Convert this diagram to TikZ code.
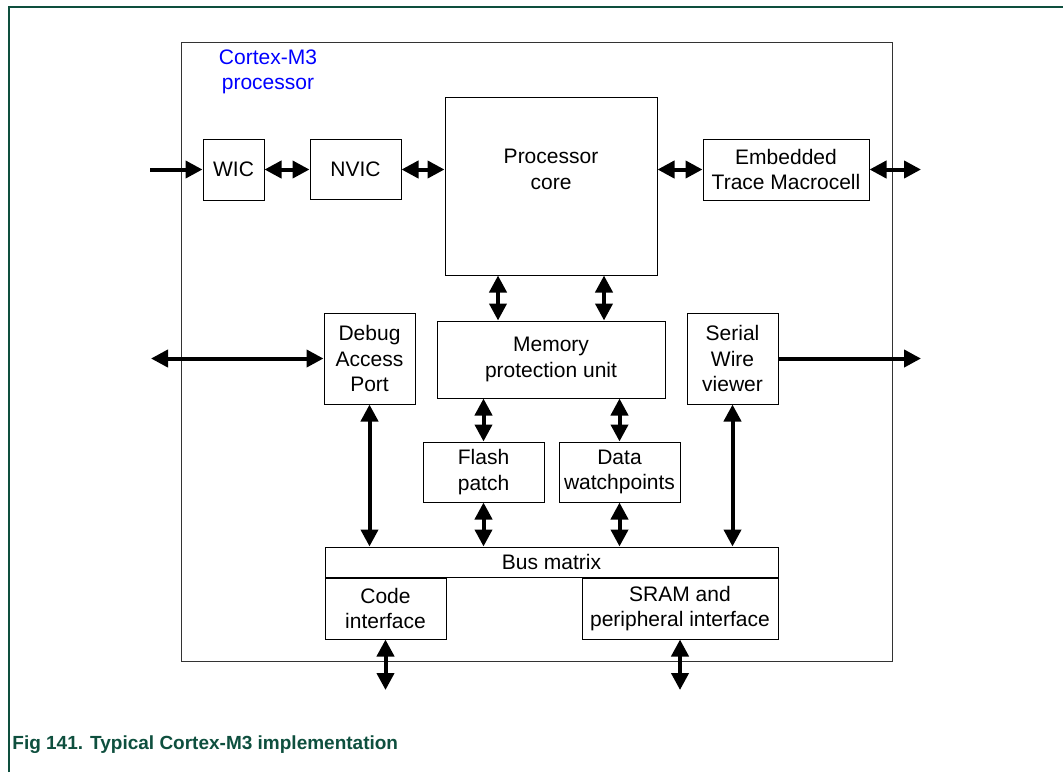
\documentclass[tikz,border=0pt]{standalone}
\usepackage{fontspec}
\setmainfont{Liberation Sans}
\usepackage{xcolor}
\usetikzlibrary{positioning, arrows.meta}

\definecolor{figgreen}{HTML}{0E4F3E}
\definecolor{cortexblue}{RGB}{0,0,255}

\begin{document}
\begin{tikzpicture}[
  x=0.5pt, y=-0.5pt,
  box/.style={draw, line width=0.5pt, inner sep=1pt, align=center,
              font=\fontsize{10.5}{12.6}\selectfont},
  link/.style={line width=2pt, {Triangle[length=8.5pt,width=8.5pt]}-{Triangle[length=8.5pt,width=8.5pt]}},
  feed/.style={line width=2pt, -{Triangle[length=8.5pt,width=8.5pt]}},
  node distance=22.5pt
]
  \useasboundingbox (0,0) rectangle (1063,772);

  % page frame and caption
  \draw[figgreen, line width=0.8pt] (9,772) -- (9,7) -- (1063,7);
  \node[anchor=base west, inner sep=0pt, text=figgreen,
        font=\fontsize{9.5}{11}\selectfont\bfseries] (caption) at (12,749)
        {Fig 141. Typical Cortex-M3 implementation};

  % processor outline
  \node[draw=black!80, line width=0.5pt, minimum width=355.5pt, minimum height=309.5pt,
        inner sep=0pt] (cpu) at (536.5,351.5) {};
  \node[box, draw=none, text=cortexblue] (cpulabel) at (268,72) {Cortex-M3\\processor};

  % top row
  \node[box, minimum width=30.5pt, minimum height=30.5pt] (wic) at (233.5,169.5) {WIC};
  \node[box, minimum width=45.5pt, minimum height=45.5pt/1.5, right=of wic] (nvic) {NVIC};
  \node[box, minimum width=106pt, minimum height=89pt,
        label={[box, draw=none, anchor=north, yshift=-25pt,
                font=\fontsize{10.5}{13.2}\selectfont]north:Processor\\core}] (core) at (551,186) {};
  \node[box, minimum width=83pt, minimum height=30.5pt] (etm) at (786,169.5) {Embedded\\Trace Macrocell};

  % middle row
  \node[box, minimum width=114pt, minimum height=38.5pt, below=of core] (mpu) {Memory\\protection unit};
  \node[box, minimum width=45.5pt, minimum height=45.5pt] (dap) at (369.5,358.5) {Debug\\Access\\Port};
  \node[box, minimum width=45.5pt, minimum height=45.5pt] (swv) at (732.5,358.5) {Serial\\Wire\\viewer};
  \node[box, minimum width=60.5pt, minimum height=30pt] (flash) at (483.5,472) {Flash\\patch};
  \node[box, minimum width=60.5pt, minimum height=30pt] (dwt) at (619.5,472) {Data\\watchpoints};

  % bus matrix and interfaces
  \node[box, minimum width=226.5pt, minimum height=15pt] (bus) at (551.5,562) {Bus matrix};
  \node[box, minimum width=60.5pt, minimum height=30.5pt, anchor=north west] (code) at (bus.south west) {Code\\interface};
  \node[box, minimum width=98pt, minimum height=30.5pt, anchor=north east] (sram) at (bus.south east) {SRAM and\\peripheral interface};

  % free ends
  \coordinate (irqin) at (150,169.5);
  \coordinate (etmout) at (921,169.5);
  \coordinate (dbgout) at (151,358.5);
  \coordinate (swvout) at (921,358.5);
  \coordinate (codeout) at (385.5,690);
  \coordinate (sramout) at (680,690);

  \draw[feed] (irqin) -- (wic);
  \draw[link] (wic) -- (nvic);
  \draw[link] (nvic) -- (nvic -| core.west);
  \draw[link] (core.east |- etm) -- (etm);
  \draw[link] (etm) -- (etmout);

  \draw[link] ([xshift=-26.5pt]core.south) -- ([xshift=-26.5pt]mpu.north);
  \draw[link] ([xshift=26.5pt]core.south) -- ([xshift=26.5pt]mpu.north);
  \draw[link] (dbgout) -- (dap);
  \draw[feed] (swv) -- (swvout);

  \draw[link] (mpu.south -| flash) -- (flash);
  \draw[link] (mpu.south -| dwt) -- (dwt);
  \draw[link] (flash) -- (flash |- bus.north);
  \draw[link] (dwt) -- (dwt |- bus.north);
  \draw[link] (dap) -- (dap |- bus.north);
  \draw[link] (swv) -- (swv |- bus.north);

  \draw[link] (code.south -| codeout) -- (codeout);
  \draw[link] (sram.south -| sramout) -- (sramout);
\end{tikzpicture}
\end{document}
